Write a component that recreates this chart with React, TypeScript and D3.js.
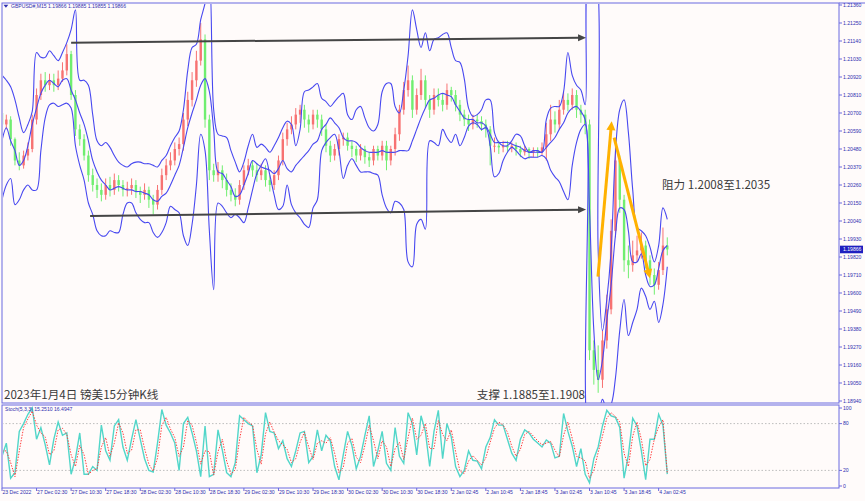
import React from "react";
import * as d3 from "d3";

// ---- hourly data (index 0 = 23 Dec 18:30, one point per hour) ----
const closes = [
  1.2063, 1.2066, 1.2054, 1.2041, 1.2038, 1.2044, 1.2048, 1.2066, 1.2081, 1.209,
  1.2087, 1.209, 1.2087, 1.2091, 1.2096, 1.2106, 1.2081, 1.206, 1.2054, 1.2044,
  1.2032, 1.2026, 1.2023, 1.202, 1.2026, 1.2023, 1.2029, 1.2026, 1.2023, 1.2024,
  1.2026, 1.2022, 1.202, 1.2023, 1.2017, 1.2014, 1.2023, 1.2032, 1.2038, 1.2041,
  1.2048, 1.2051, 1.2066, 1.2078, 1.209, 1.2102, 1.2115, 1.2066, 1.2035, 1.2032,
  1.2035, 1.2029, 1.2023, 1.202, 1.2017, 1.2026, 1.2035, 1.2038, 1.2035, 1.2032,
  1.2035, 1.2029, 1.2026, 1.2032, 1.2041, 1.2054, 1.206, 1.2063, 1.2069, 1.2072,
  1.2066, 1.2063, 1.2069, 1.2066, 1.206, 1.205, 1.2044, 1.2048, 1.2054, 1.2055,
  1.205, 1.2048, 1.2044, 1.2048, 1.2043, 1.2041, 1.2048, 1.2044, 1.205, 1.2041,
  1.2048, 1.2057, 1.2072, 1.2084, 1.209, 1.2072, 1.2081, 1.209, 1.2078, 1.2072,
  1.2081, 1.2078, 1.2075, 1.2084, 1.2081, 1.2075, 1.2069, 1.2066, 1.2063, 1.2066,
  1.2065, 1.2063, 1.206, 1.205, 1.205, 1.2049, 1.205, 1.2049, 1.205, 1.2048,
  1.2046, 1.2048, 1.2046, 1.2047, 1.2046, 1.2049, 1.2057, 1.2066, 1.2063, 1.2072,
  1.2078, 1.2075, 1.2081, 1.2072, 1.2069, 1.2063, 1.1925, 1.1913, 1.1907, 1.1931,
  1.195, 1.1998, 1.2041, 1.2017, 1.198, 1.1977, 1.1983, 1.1986, 1.1989, 1.198,
  1.1971, 1.1965, 1.1974, 1.1989, 1.19866,
];
const firstOpen = 1.207;

const highs = [
  1.2072, 1.2069, 1.2068, 1.2055, 1.2046, 1.2047, 1.2052, 1.2069, 1.2085, 1.2094,
  1.2095, 1.2094, 1.2094, 1.2096, 1.2101, 1.2112, 1.2108, 1.2084, 1.2063, 1.2057,
  1.2047, 1.2036, 1.203, 1.2027, 1.203, 1.2031, 1.2033, 1.2032, 1.2029, 1.2028,
  1.203, 1.2029, 1.2025, 1.2027, 1.2025, 1.202, 1.2026, 1.2036, 1.2042, 1.2046,
  1.2052, 1.2055, 1.207, 1.2083, 1.2095, 1.2108, 1.2125, 1.2118, 1.2069, 1.2039,
  1.204, 1.2038, 1.2033, 1.2027, 1.2024, 1.2029, 1.2038, 1.2042, 1.2041, 1.2039,
  1.2039, 1.2038, 1.2032, 1.2035, 1.2044, 1.2058, 1.2064, 1.2068, 1.2073, 1.2075,
  1.2075, 1.2069, 1.2072, 1.2072, 1.2069, 1.2063, 1.2053, 1.2051, 1.2057, 1.2058,
  1.2058, 1.2053, 1.205, 1.2051, 1.205, 1.2046, 1.205, 1.205, 1.2053, 1.2053,
  1.205, 1.2061, 1.2075, 1.2089, 1.2099, 1.2093, 1.2085, 1.2097, 1.2093, 1.2081,
  1.2085, 1.2085, 1.2082, 1.2088, 1.2086, 1.2084, 1.2078, 1.2072, 1.2069, 1.2069,
  1.2069, 1.2068, 1.2066, 1.2062, 1.2055, 1.2053, 1.2053, 1.2053, 1.2052, 1.2052,
  1.205, 1.205, 1.2049, 1.2049, 1.2049, 1.2052, 1.2064, 1.2075, 1.2071, 1.2078,
  1.2083, 1.2082, 1.2085, 1.2084, 1.2075, 1.2072, 1.2066, 1.1931, 1.1928, 1.1937,
  1.1959, 1.2005, 1.2053, 1.2044, 1.202, 1.1989, 1.1992, 1.1995, 1.1997, 1.1992,
  1.1983, 1.1975, 1.1979, 1.2, 1.1994,
];

const lows = [
  1.2058, 1.206, 1.205, 1.2038, 1.2035, 1.2036, 1.2041, 1.2046, 1.2063, 1.2078,
  1.2083, 1.2084, 1.2083, 1.2084, 1.2089, 1.2093, 1.2078, 1.2056, 1.205, 1.2041,
  1.2028, 1.2022, 1.2018, 1.2016, 1.2017, 1.2019, 1.202, 1.2022, 1.2019, 1.2019,
  1.202, 1.2018, 1.2015, 1.2017, 1.2012, 1.2008, 1.2011, 1.202, 1.2029, 1.2035,
  1.2038, 1.2044, 1.2047, 1.2062, 1.2074, 1.2086, 1.2099, 1.2061, 1.2029, 1.2028,
  1.2028, 1.2024, 1.2019, 1.2016, 1.2013, 1.2014, 1.2023, 1.2032, 1.2031, 1.2028,
  1.2029, 1.2025, 1.2022, 1.2023, 1.2029, 1.2038, 1.205, 1.2057, 1.206, 1.2064,
  1.2061, 1.2058, 1.206, 1.2061, 1.2056, 1.2046, 1.204, 1.2041, 1.2044, 1.205,
  1.2047, 1.2043, 1.204, 1.2041, 1.2039, 1.2037, 1.2038, 1.2041, 1.2041, 1.2035,
  1.2038, 1.2044, 1.2053, 1.2069, 1.208, 1.2067, 1.2069, 1.2078, 1.2073, 1.2067,
  1.2069, 1.2074, 1.2071, 1.2072, 1.2077, 1.2071, 1.2065, 1.2062, 1.2059, 1.206,
  1.2061, 1.2059, 1.2055, 1.2038, 1.2046, 1.2045, 1.2046, 1.2046, 1.2046, 1.2044,
  1.2043, 1.2044, 1.2042, 1.2043, 1.2043, 1.2044, 1.2041, 1.2053, 1.2058, 1.206,
  1.2069, 1.2071, 1.2072, 1.2067, 1.2064, 1.2057, 1.1919, 1.1904, 1.1899, 1.1902,
  1.1926, 1.1947, 1.1994, 1.2009, 1.1973, 1.1969, 1.1973, 1.1979, 1.1981, 1.1975,
  1.1965, 1.1959, 1.1962, 1.1971, 1.1983,
];

const upperBand = [
  1.2093, 1.209, 1.2086, 1.2078, 1.2067, 1.2058, 1.2063, 1.2071, 1.2107, 1.2104,
  1.2104, 1.2108, 1.2105, 1.2102, 1.2107, 1.2113, 1.2121, 1.2133, 1.209, 1.209,
  1.2087, 1.2069, 1.2053, 1.205, 1.2052, 1.2049, 1.2044, 1.204, 1.2038, 1.2037,
  1.2039, 1.204, 1.204, 1.2039, 1.2039, 1.2038, 1.2037, 1.2041, 1.2044, 1.205,
  1.2055, 1.2059, 1.2072, 1.2096, 1.211, 1.2112, 1.2127, 1.2137, 1.2151, 1.2072,
  1.2057, 1.2056, 1.2055, 1.2047, 1.204, 1.2034, 1.204, 1.205, 1.2057, 1.2049,
  1.2051, 1.2049, 1.2046, 1.205, 1.2055, 1.2061, 1.2065, 1.2063, 1.205, 1.206,
  1.2083, 1.2084, 1.2086, 1.2088, 1.2079, 1.2077, 1.2074, 1.2077, 1.208, 1.2082,
  1.2069, 1.2066, 1.2072, 1.2074, 1.2067, 1.2061, 1.2059, 1.2063, 1.2083, 1.2088,
  1.2088, 1.2074, 1.207, 1.2084, 1.2105, 1.2133, 1.2121, 1.211, 1.2119, 1.2108,
  1.2115, 1.2116, 1.2118, 1.2119, 1.211, 1.2102, 1.2101, 1.2091, 1.2073, 1.2068,
  1.2069, 1.2072, 1.2078, 1.2078, 1.2058, 1.2052, 1.205, 1.205, 1.2053, 1.2057,
  1.2056, 1.205, 1.2046, 1.2047, 1.2047, 1.2046, 1.2066, 1.2073, 1.2074, 1.2074,
  1.2083, 1.2107, 1.2093, 1.2087, 1.2084, 1.2075, 1.2163, 1.2163, 1.1986, 1.1937,
  1.1956, 1.1986, 1.2046, 1.2072, 1.2078, 1.2058, 1.2023, 1.2, 1.1998, 1.1995,
  1.1988, 1.1979, 1.1989, 1.2012, 1.2005,
];

const middleBand = [
  1.2053, 1.2061, 1.2053, 1.2047, 1.2038, 1.2041, 1.205, 1.2063, 1.2073, 1.2082,
  1.2087, 1.209, 1.2088, 1.2086, 1.209, 1.2091, 1.2084, 1.2078, 1.207, 1.2063,
  1.2053, 1.2041, 1.2034, 1.2029, 1.2026, 1.2023, 1.2024, 1.2025, 1.2024, 1.2023,
  1.2023, 1.2022, 1.2022, 1.2021, 1.202, 1.2017, 1.2016, 1.2019, 1.2021, 1.2026,
  1.2032, 1.2038, 1.2049, 1.2061, 1.207, 1.2078, 1.2087, 1.2091, 1.2083, 1.206,
  1.2034, 1.2033, 1.2029, 1.2025, 1.2019, 1.202, 1.2026, 1.2033, 1.2041, 1.2039,
  1.2037, 1.2036, 1.2035, 1.2033, 1.2036, 1.2041, 1.2036, 1.2034, 1.2038, 1.2041,
  1.2044, 1.2047, 1.2051, 1.2053, 1.206, 1.2063, 1.2067, 1.2064, 1.2061, 1.2055,
  1.2053, 1.2053, 1.2052, 1.2049, 1.2047, 1.2046, 1.2046, 1.2046, 1.2047, 1.2046,
  1.2046, 1.2046, 1.2047, 1.2047, 1.2047, 1.2053, 1.206, 1.2067, 1.2073, 1.2078,
  1.2079, 1.2081, 1.2082, 1.2081, 1.208, 1.2075, 1.2071, 1.2067, 1.2066, 1.2066,
  1.2064, 1.2064, 1.2062, 1.2057, 1.2052, 1.2052, 1.2052, 1.2052, 1.2051, 1.205,
  1.2049, 1.2047, 1.2046, 1.2046, 1.2046, 1.2046, 1.2049, 1.2052, 1.2055, 1.206,
  1.2064, 1.207, 1.2073, 1.2074, 1.2071, 1.2066, 1.2011, 1.1937, 1.1907, 1.1919,
  1.1943, 1.1965, 1.1995, 1.2012, 1.2011, 1.1998, 1.1979, 1.1979, 1.1984, 1.1971,
  1.1964, 1.1965, 1.1975, 1.1986, 1.1989,
];

const lowerBand = [
  1.2017, 1.2026, 1.203, 1.2014, 1.2017, 1.2023, 1.2026, 1.2023, 1.2023, 1.2047,
  1.2067, 1.2075, 1.2076, 1.2074, 1.2075, 1.2076, 1.2073, 1.205, 1.2038, 1.2029,
  1.2015, 1.2008, 1.1998, 1.1995, 1.1995, 1.1998, 1.1997, 1.1997, 1.2008, 1.2015,
  1.2015, 1.2009, 1.2005, 1.2003, 1.2003, 1.1997, 1.1994, 1.1997, 1.2003, 1.2013,
  1.2011, 1.2009, 1.1995, 1.1989, 1.2002, 1.2026, 1.2057, 1.2047, 1.1998, 1.1962,
  1.2015, 1.2013, 1.2009, 1.2006, 1.2008, 1.2006, 1.2003, 1.2012, 1.2023, 1.2033,
  1.2038, 1.2042, 1.2032, 1.202, 1.2011, 1.2013, 1.2026, 1.2014, 1.2009, 1.2006,
  1.2002, 1.2, 1.2012, 1.2017, 1.2047, 1.2052, 1.2055, 1.2057, 1.2047, 1.203,
  1.2038, 1.2042, 1.2038, 1.2034, 1.2034, 1.2034, 1.2033, 1.2032, 1.202, 1.2012,
  1.2009, 1.2016, 1.2015, 1.2011, 1.1979, 1.1976, 1.2002, 1.2005, 1.1999, 1.2053,
  1.2052, 1.205, 1.206, 1.2055, 1.2052, 1.2057, 1.205, 1.2055, 1.2062, 1.2064,
  1.2063, 1.206, 1.2061, 1.205, 1.2031, 1.2033, 1.2041, 1.2046, 1.2049, 1.2047,
  1.2044, 1.2042, 1.2043, 1.2043, 1.2043, 1.2044, 1.2042, 1.2035, 1.2031, 1.2028,
  1.2022, 1.2017, 1.2038, 1.2052, 1.206, 1.2063, 1.187, 1.187, 1.1882, 1.1895,
  1.1889, 1.1892, 1.1908, 1.1937, 1.1956, 1.1934, 1.1942, 1.195, 1.1963, 1.1958,
  1.195, 1.1955, 1.1942, 1.1953, 1.1976,
];

const stochK = [
  38, 55, 10, 17, 70, 80, 92, 100, 60, 75,
  53, 27, 60, 82, 65, 68, 15, 35, 68, 15,
  15, 25, 20, 78, 45, 33, 77, 85, 50, 33,
  60, 85, 60, 35, 20, 18, 55, 98, 78, 68,
  55, 20, 80, 88, 68, 45, 12, 77, 12, 15,
  72, 46, 17, 12, 30, 90, 85, 80, 77, 17,
  40, 94, 70, 68, 48, 58, 35, 25, 45, 68,
  70, 30, 38, 72, 45, 65, 58, 25, 8, 40,
  70, 52, 22, 38, 65, 90, 25, 45, 70, 29,
  20, 75, 38, 29, 94, 80, 40, 90, 70, 25,
  70, 97, 35, 80, 63, 25, 12, 20, 45, 33,
  32, 22, 50, 62, 85, 78, 78, 60, 42, 33,
  60, 72, 68, 60, 55, 50, 59, 55, 36, 38,
  93, 70, 51, 25, 48, 15, 4, 35, 50, 77,
  97, 90, 88, 75, 10, 40, 87, 77, 45, 8,
  60, 60, 92, 78, 15.251,
];

const stochD = [
  45, 45, 30, 12, 45, 75, 86, 96, 78, 68,
  63, 40, 45, 72, 74, 66, 40, 25, 52, 40,
  15, 20, 22, 50, 62, 38, 55, 81, 68, 42,
  46, 72, 72, 48, 28, 19, 36, 78, 88, 73,
  62, 38, 50, 84, 78, 56, 28, 45, 44, 14,
  44, 60, 32, 15, 21, 60, 88, 82, 78, 47,
  28, 67, 82, 69, 58, 53, 47, 30, 35, 56,
  69, 50, 34, 55, 58, 55, 62, 42, 17, 24,
  55, 61, 37, 30, 52, 78, 58, 35, 58, 50,
  25, 48, 56, 34, 62, 87, 60, 65, 80, 48,
  48, 84, 66, 58, 72, 44, 19, 16, 32, 39,
  33, 27, 36, 56, 74, 82, 78, 69, 51, 38,
  47, 66, 70, 64, 58, 53, 55, 57, 46, 37,
  65, 82, 61, 38, 36, 32, 10, 20, 43, 64,
  87, 94, 89, 82, 42, 25, 64, 82, 60, 26,
  34, 60, 76, 85, 16.4947,
];

const priceTicks = [
  1.2136, 1.2125, 1.2114, 1.2103, 1.2092, 1.2081, 1.207, 1.2059, 1.2048, 1.2037, 1.2026, 1.2015,
  1.2004, 1.1993, 1.1982, 1.1971, 1.196, 1.1949, 1.1938, 1.1927, 1.1916, 1.1905, 1.1894,
];
const lastPrice = 1.19866;

const timeLabels = [
  "23 Dec 2022", "27 Dec 02:30", "27 Dec 10:30", "27 Dec 18:30", "28 Dec 02:30", "28 Dec 10:30",
  "28 Dec 18:30", "29 Dec 02:30", "29 Dec 10:30", "29 Dec 18:30", "30 Dec 02:30", "30 Dec 10:30",
  "30 Dec 18:30", "2 Jan 02:45", "2 Jan 10:45", "2 Jan 18:45", "3 Jan 02:45", "3 Jan 10:45",
  "3 Jan 18:45", "4 Jan 02:45",
];
const hoursPerLabel = 8;

const stochLevels = [100, 80, 20, 0];
const stochGuides = [80, 20];

const headerText = "GBPUSD#,M15  1.19866 1.19885 1.19855 1.19866";
const stochText = "Stoch(5,3,3) 15.2510 16.4947";
const titleText = "2023年1月4日 镑美15分钟K线";
const supportText = "支撑 1.1885至1.1908";
const resistText = "阻力 1.2008至1.2035";

// annotation lines in (hour index, price)
const levelArrows = [
  { t1: 16, p1: 1.2113, t2: 135.2, p2: 1.2116 },
  { t1: 20.4, p1: 1.2007, t2: 135.2, p2: 1.2011 },
];
const swingArrows = [
  { t1: 137.96, p1: 1.197, t2: 141.13, p2: 1.2065 },
  { t1: 141.7, p1: 1.2055, t2: 150, p2: 1.1969 },
];

const AXIS = "#6a6ae0";
const TXT = "#2f2fb0";
const SMALL_FONT = "'Liberation Sans', Arial, sans-serif";
const SMALL_SIZE = 5.1;
const CJK_FONT = "'Noto Sans CJK SC', sans-serif";

function Arrow({ x1, y1, x2, y2, color, width, head, half }: any) {
  const dx = x2 - x1, dy = y2 - y1;
  const len = Math.sqrt(dx * dx + dy * dy);
  const ux = dx / len, uy = dy / len;
  const bx = x2 - ux * head, by = y2 - uy * head;
  const px = -uy * half, py = ux * half;
  return (
    <g>
      <line x1={x1} y1={y1} x2={bx + ux} y2={by + uy} stroke={color} strokeWidth={width} />
      <path d={`M${x2},${y2}L${bx + px},${by + py}L${bx - px},${by - py}Z`} fill={color} />
    </g>
  );
}

export default function App() {
  const W = 865, H = 501;
  const left = 2, right = 839, mainTop = 3, mainBottom = 403, subTop = 405, subBottom = 488;

  const x = d3.scaleLinear().domain([0, 152]).range([2, 658.64]);
  const y = d3.scaleLinear().domain([1.1894, 1.2136]).range([401, 5]);
  const ys = d3.scaleLinear().domain([0, 100]).range([486, 408]);

  const band = d3.line<number>().x((_, i) => x(i)).y((d) => y(d)).curve(d3.curveCatmullRom.alpha(0.5));
  const stochLine = d3.line<number>().x((_, i) => x(i)).y((d) => ys(d));

  const candles = closes.map((c, i) => {
    const o = i === 0 ? firstOpen : closes[i - 1];
    const h = Math.max(highs[i], o, c);
    const l = Math.min(lows[i], o, c);
    return { i, o, c, h, l, up: c >= o };
  });

  return (
    <svg width={W} height={H} style={{ position: "absolute", left: 0, top: 0, display: "block" }}>
      <defs>
        <clipPath id="mainClip">
          <rect x={left + 1} y={mainTop + 1} width={right - left - 1} height={mainBottom - mainTop - 1} />
        </clipPath>
        <clipPath id="subClip">
          <rect x={left + 1} y={subTop + 1} width={right - left - 1} height={subBottom - subTop - 1} />
        </clipPath>
      </defs>
      <rect x={0} y={0} width={W} height={H} fill="#fffbfa" />

      {/* main panel */}
      <g clipPath="url(#mainClip)">
        {candles.map((d) => {
          const col = d.up ? "#f77272" : "#70ee70";
          const y1 = y(Math.max(d.o, d.c));
          const y2 = y(Math.min(d.o, d.c));
          return (
            <g key={d.i}>
              <line x1={x(d.i)} x2={x(d.i)} y1={y(d.h)} y2={y(d.l)} stroke={col} strokeWidth={1} />
              <rect x={x(d.i) - 1.2} y={y1} width={2.4} height={Math.max(1, y2 - y1)} fill={col} />
            </g>
          );
        })}
        <path d={band(upperBand) || ""} fill="none" stroke="#4848f0" strokeWidth={1.1} />
        <path d={band(middleBand) || ""} fill="none" stroke="#4848f0" strokeWidth={1.1} />
        <path d={band(lowerBand) || ""} fill="none" stroke="#4848f0" strokeWidth={1.1} />
        {levelArrows.map((a, k) => (
          <Arrow key={k} x1={x(a.t1)} y1={y(a.p1)} x2={x(a.t2)} y2={y(a.p2)} color="#454545" width={2} head={8} half={3.5} />
        ))}
        {swingArrows.map((a, k) => (
          <Arrow key={k} x1={x(a.t1)} y1={y(a.p1)} x2={x(a.t2)} y2={y(a.p2)} color="#ffb100" width={3} head={9} half={4.5} />
        ))}
      </g>

      {/* header */}
      <path d="M3.5,4.8L8.3,4.8L5.9,7.8Z" fill={TXT} />
      <text x={11} y={7.9} fontFamily={SMALL_FONT} fontSize={SMALL_SIZE} fill={TXT}>{headerText}</text>

      {/* annotations */}
      <text x={4} y={398.5} fontFamily={CJK_FONT} fontSize={11.6} fill="#3a3a3a">{titleText}</text>
      <text x={585} y={398.5} textAnchor="end" fontFamily={CJK_FONT} fontSize={11.6} fill="#3a3a3a">{supportText}</text>
      <text x={662} y={189} fontFamily={CJK_FONT} fontSize={11.6} fill="#3a3a3a">{resistText}</text>

      {/* frames */}
      <rect x={left} y={mainTop} width={right - left} height={mainBottom - mainTop} fill="none" stroke={AXIS} strokeWidth={1} />
      <line x1={right} y1={mainTop} x2={W} y2={mainTop} stroke={AXIS} strokeWidth={1} />
      <rect x={left} y={subTop} width={right - left} height={subBottom - subTop} fill="none" stroke={AXIS} strokeWidth={1} />

      {/* price axis */}
      {priceTicks.map((p) => (
        <g key={p}>
          <line x1={right} x2={right + 3} y1={y(p)} y2={y(p)} stroke={AXIS} />
          <text x={843} y={y(p) + 1.8} fontFamily={SMALL_FONT} fontSize={SMALL_SIZE} fill={TXT}>{p.toFixed(5)}</text>
        </g>
      ))}
      <rect x={840} y={y(lastPrice) - 3.8} width={23} height={7.6} fill="#1f1fc0" />
      <text x={843} y={y(lastPrice) + 1.8} fontFamily={SMALL_FONT} fontSize={SMALL_SIZE} fill="#ffffff">{lastPrice.toFixed(5)}</text>

      {/* stochastic panel */}
      <g clipPath="url(#subClip)">
        {stochGuides.map((v) => (
          <line key={v} x1={left} x2={right} y1={ys(v)} y2={ys(v)} stroke="#bdbdbd" strokeWidth={1} strokeDasharray="1.5,2" />
        ))}
        <path d={stochLine(stochK) || ""} fill="none" stroke="#52d6c9" strokeWidth={1.4} />
        <path d={stochLine(stochD) || ""} fill="none" stroke="#ff3b3b" strokeWidth={1} strokeDasharray="1.4,1.4" />
      </g>
      <text x={5} y={411} fontFamily={SMALL_FONT} fontSize={SMALL_SIZE} fill={TXT}>{stochText}</text>
      {stochLevels.map((v) => (
        <g key={v}>
          <line x1={right} x2={right + 3} y1={ys(v)} y2={ys(v)} stroke={AXIS} />
          <text x={843} y={ys(v) + 1.8} fontFamily={SMALL_FONT} fontSize={SMALL_SIZE} fill={TXT}>{String(v)}</text>
        </g>
      ))}

      {/* time axis */}
      {timeLabels.map((lab, k) => {
        const tx = x(k * hoursPerLabel);
        return (
          <g key={lab}>
            <line x1={tx} x2={tx} y1={subBottom} y2={subBottom + 3} stroke={AXIS} />
            <text x={tx + 0.5} y={494} fontFamily={SMALL_FONT} fontSize={SMALL_SIZE} fill={TXT}>{lab}</text>
          </g>
        );
      })}
    </svg>
  );
}
